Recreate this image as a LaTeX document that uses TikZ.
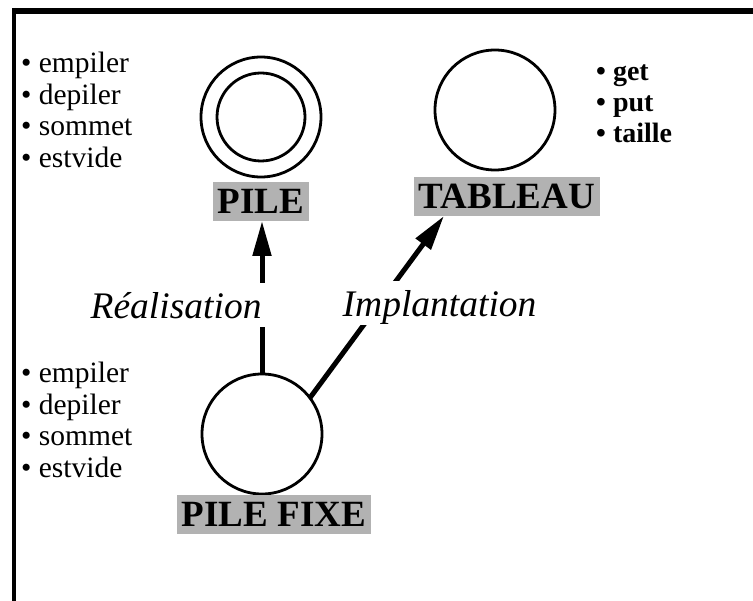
\documentclass[tikz,border=0pt]{standalone}
\usepackage{fontspec}
\setmainfont{Liberation Serif}
\usetikzlibrary{arrows.meta,positioning}

\begin{document}
\begin{tikzpicture}[
  x=1pt, y=-1pt,
  type/.style={draw=black, line width=2.8pt, circle, minimum size=120pt,
    inner sep=0pt, outer sep=0pt},
  tag/.style={fill=black!30, font=\fontsize{37}{37}\selectfont\bfseries,
    inner xsep=5pt, inner ysep=7pt, text height=25pt, text depth=0pt, outer sep=0pt},
  ops/.style={align=left, anchor=north west, inner sep=0pt,
    font=\fontsize{29.5}{31.5}\selectfont},
  arr/.style={-{Triangle[length=35pt,width=18pt]}, draw=black, line width=5pt},
  lab/.style={fill=white, font=\fontsize{37.5}{40}\selectfont\itshape,
    inner xsep=3pt, inner ysep=9pt, text height=26pt, text depth=0pt}
]
\useasboundingbox (0,0) rectangle (753,601);
\draw[line width=6pt] (12,11) -- (753,11);
\draw[line width=3.5pt] (13.75,8) -- (13.75,601);
\node[type] (pile) at (261,117) {};
\draw[line width=2.8pt] (pile.center) circle (44pt);
\node[type] (tab) at (495,110) {};
\node[type] (fixe) at (262,434) {};
\node[tag, below=5pt of pile] (pilelab) {PILE};
\node[tag, below=7pt of tab, xshift=12pt] (tablab) {TABLEAU};
\node[tag, below=1pt of fixe, xshift=12pt] (fixelab) {PILE FIXE};
\node[ops] (pileops) at (21,52)
  {\textbullet\ empiler\\\textbullet\ depiler\\\textbullet\ sommet\\\textbullet\ estvide};
\node[ops, font=\fontsize{28}{31}\selectfont\bfseries] (tabops) at (596,65)
  {\textbullet\ get\\\textbullet\ put\\\textbullet\ taille};
\node[ops] (fixeops) at (21,362)
  {\textbullet\ empiler\\\textbullet\ depiler\\\textbullet\ sommet\\\textbullet\ estvide};
\draw[arr] (fixe.north) -- node[lab, pos=.45, anchor=east, xshift=5pt] (real) {Réalisation}
  (fixe.north |- pilelab.south);
\draw[arr] (fixe.37) -- node[lab, pos=.52, xshift=60pt] (impl) {Implantation}
  ([xshift=30pt]tablab.south west);
\end{tikzpicture}
\end{document}
